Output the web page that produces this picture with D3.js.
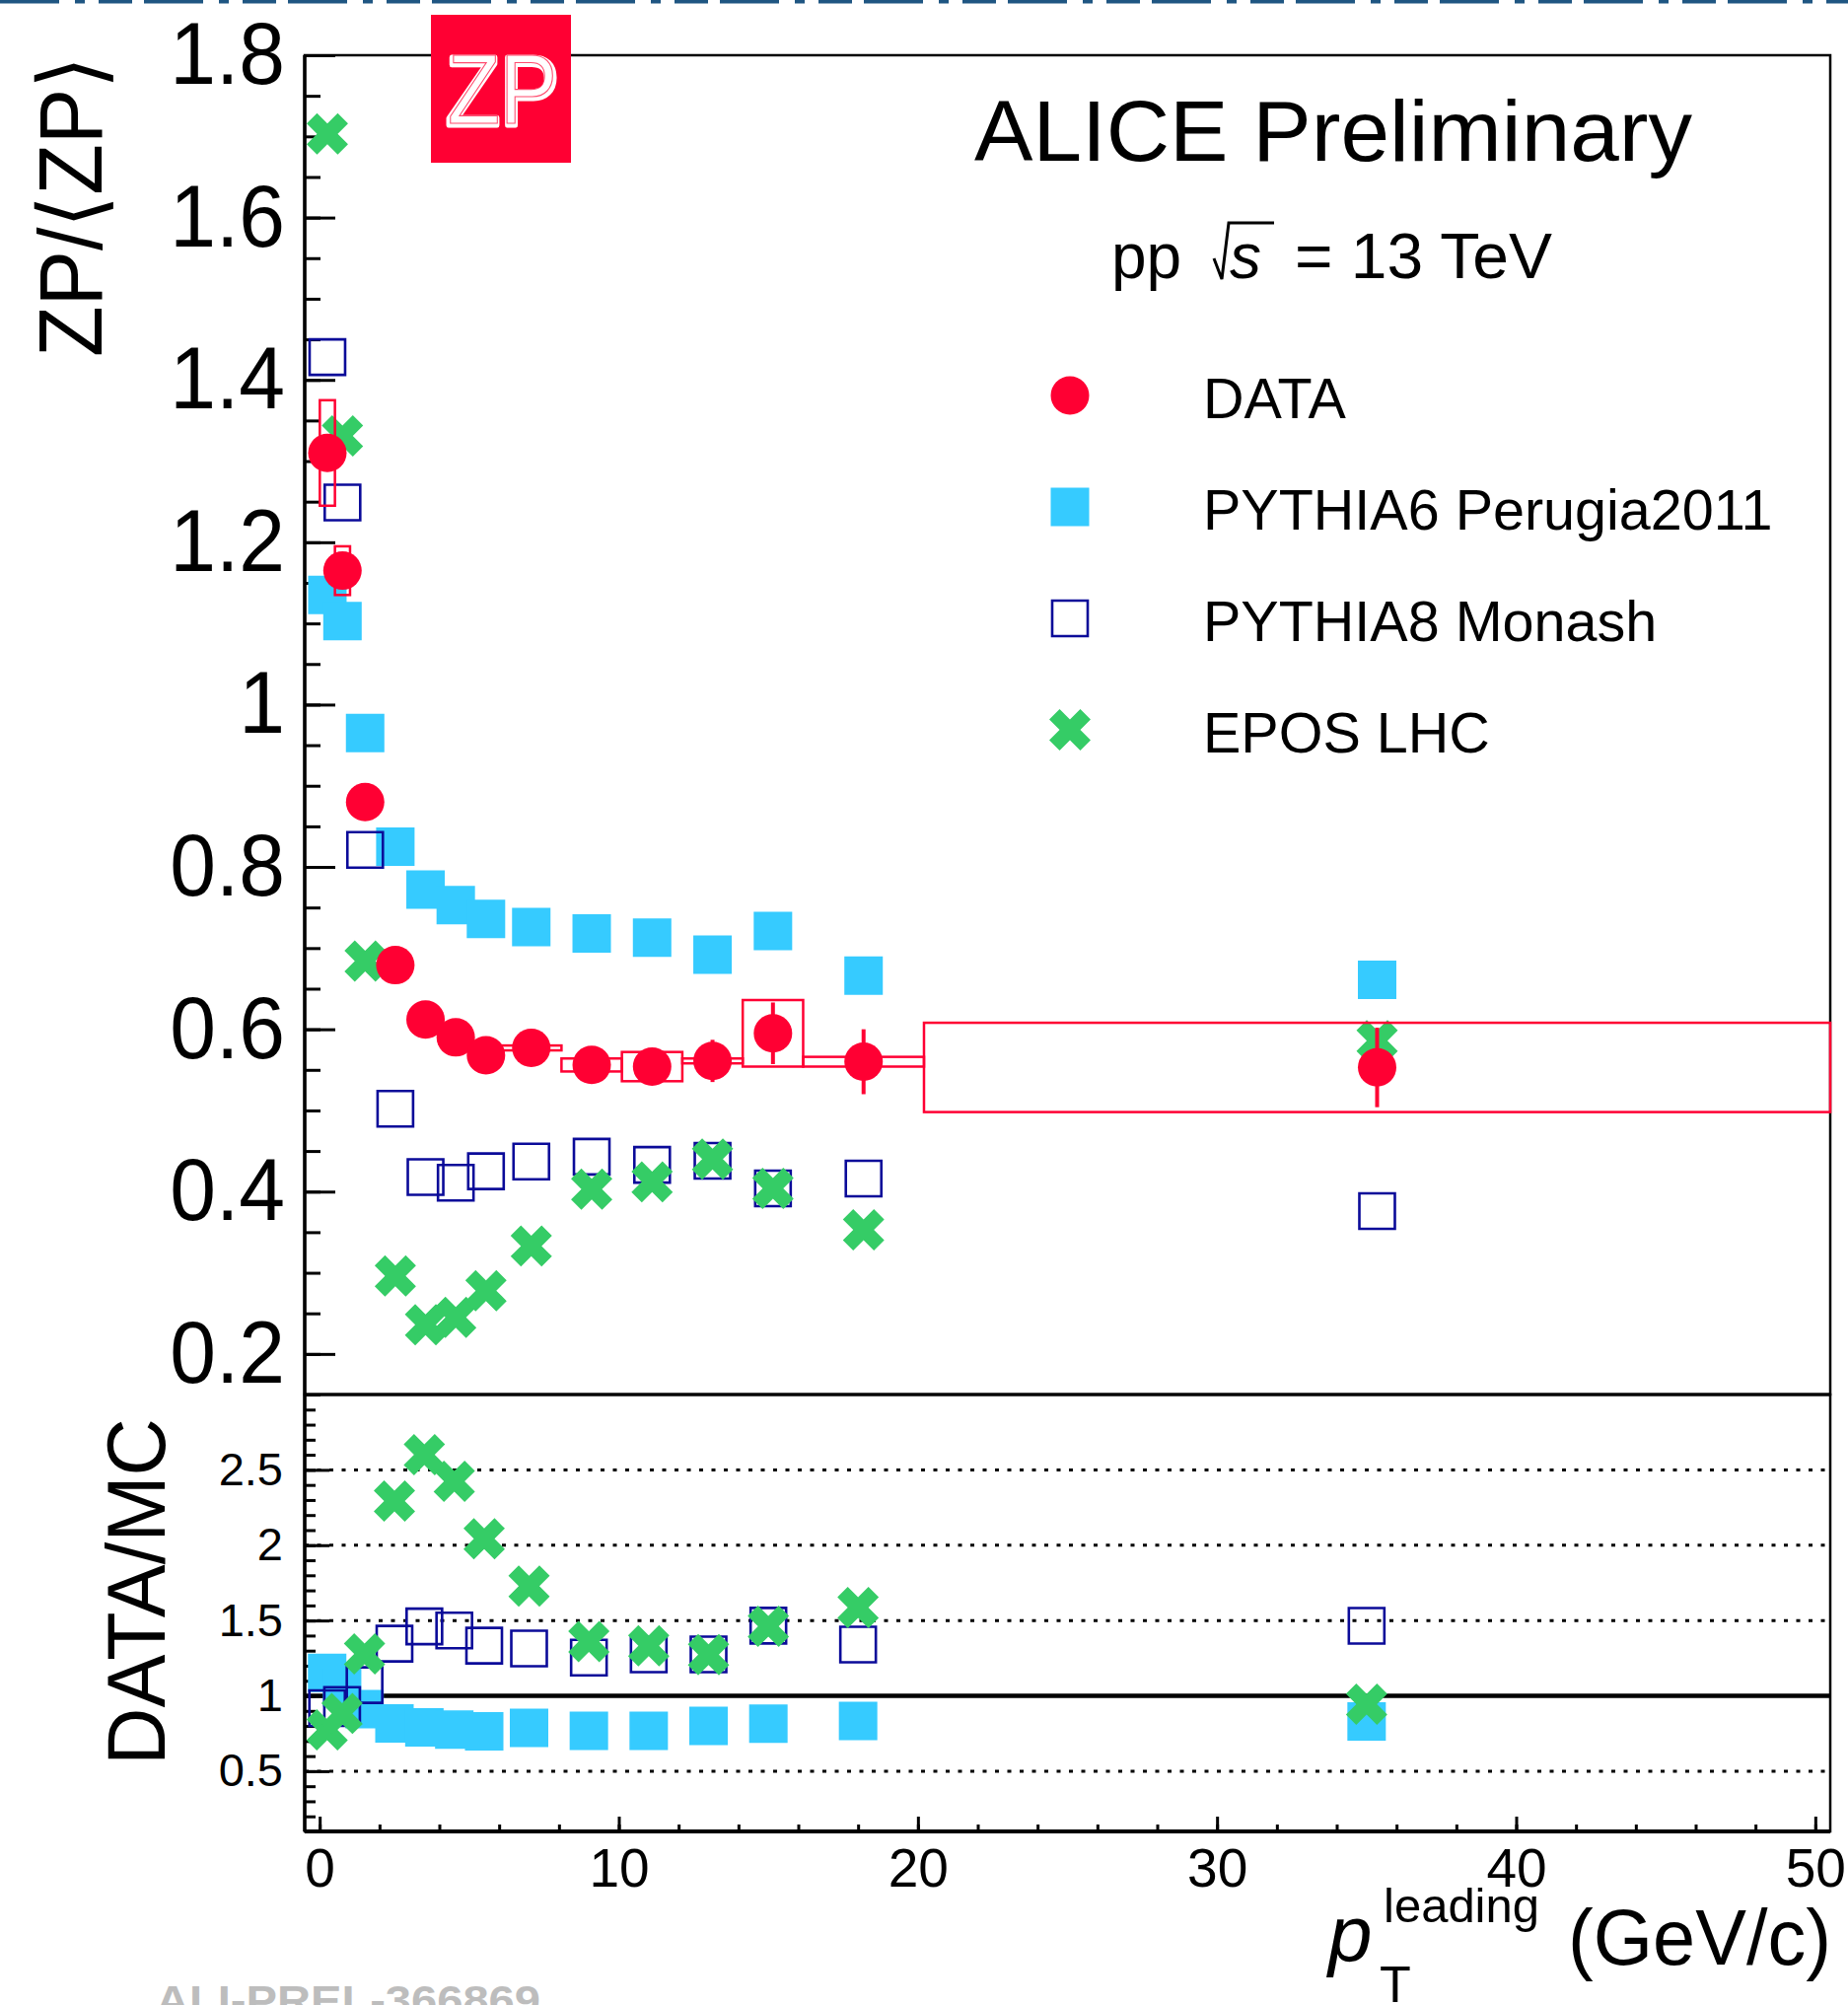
<!DOCTYPE html>
<html>
<head>
<meta charset="utf-8">
<script src="https://cdn.jsdelivr.net/npm/d3@7"></script>
<style>
  body { margin: 0; background: #fff; }
  svg text { font-family: "Liberation Sans", Arial, Helvetica, sans-serif; }
</style>
</head>
<body>
<div class="canva"></div>
<script>
// leading pT bins (GeV/c)
const binLow   = [0, 0.5, 1, 2, 3, 4, 5, 6, 8, 10, 12, 14, 16, 20];
const binHigh  = [0.5, 1, 2, 3, 4, 5, 6, 8, 10, 12, 14, 16, 20, 50];
const ptCenter = [0.25, 0.75, 1.5, 2.5, 3.5, 4.5, 5.5, 7, 9, 11, 13, 15, 18, 35];

// ZP / <ZP>
const dataVal  = [1.310, 1.165, 0.880, 0.679, 0.612, 0.590, 0.568, 0.577, 0.556, 0.554, 0.561, 0.595, 0.560, 0.553];
const dataStat = [0.020, 0.015, 0.010, 0.008, 0.008, 0.008, 0.008, 0.010, 0.015, 0.020, 0.026, 0.038, 0.040, 0.049];
const dataSyst = [0.065, 0.030, 0.010, 0.005, 0.004, 0.004, 0.004, 0.003, 0.008, 0.018, 0.003, 0.041, 0.006, 0.055];
const pythia6  = [1.135, 1.103, 0.965, 0.825, 0.772, 0.753, 0.736, 0.726, 0.718, 0.713, 0.692, 0.721, 0.666, 0.661];
const pythia8  = [1.428, 1.249, 0.821, 0.502, 0.418, 0.411, 0.425, 0.437, 0.443, 0.433, 0.438, 0.404, 0.416, 0.376];
const epos     = [1.703, 1.331, 0.684, 0.296, 0.236, 0.245, 0.278, 0.333, 0.403, 0.412, 0.440, 0.404, 0.353, 0.586];

// DATA / MC
const ratioP6   = [1.153, 1.056, 0.912, 0.817, 0.790, 0.776, 0.765, 0.787, 0.768, 0.768, 0.800, 0.815, 0.834, 0.830];
const ratioP8   = [0.918, 0.940, 1.071, 1.346, 1.461, 1.434, 1.333, 1.314, 1.254, 1.275, 1.275, 1.466, 1.341, 1.465];
const ratioEpos = [0.774, 0.883, 1.278, 2.293, 2.601, 2.424, 2.042, 1.728, 1.360, 1.333, 1.273, 1.461, 1.586, 0.945];

const topTicks   = [0.2, 0.4, 0.6, 0.8, 1.0, 1.2, 1.4, 1.6, 1.8];
const ratioTicks = [0.5, 1, 1.5, 2, 2.5];
const ratioGrid  = [0.5, 1.5, 2, 2.5];
const xTicks     = [0, 10, 20, 30, 40, 50];
const legendNames = ['DATA', 'PYTHIA6 Perugia2011', 'PYTHIA8 Monash', 'EPOS LHC'];

const red = '#ff0033', cyan = '#36cbff', navy = '#0b0b99', green = '#35cc66';

const svg = d3.select('.canva').append('svg')
    .attr('width', 1874)
    .attr('height', 2033);

svg.append('rect').attr('width', 1874).attr('height', 2033).attr('fill', '#fff');

// cut-off banner remains at the very top
svg.append('line')
    .attr('x1', 0).attr('x2', 1874).attr('y1', 1.5).attr('y2', 1.5)
    .attr('stroke', '#1f5682').attr('stroke-width', 4)
    .attr('stroke-dasharray', '60,16,10,14,34,12');

const left = 309, right = 1856;
const top0 = 56, split = 1414, bottom = 1857;

const xTop = d3.scaleLinear().domain([-0.5, 50]).range([left, right]);
const xBot = d3.scaleLinear().domain([-0.5, 50.5]).range([left, right]);
const yTop = d3.scaleLinear().domain([0.15, 1.8]).range([split, top0]);
const yBot = d3.scaleLinear().domain([0.1, 3.0]).range([bottom, split]);

const fmt = d3.format('~g');

// ---------- axes ----------
function styleAxis(g, size) {
    g.select('.domain').remove();
    g.attr('font-family', '"Liberation Sans", Arial, sans-serif').attr('font-size', size);
    g.selectAll('line').attr('stroke', '#000').attr('stroke-width', 3);
    g.selectAll('text').attr('fill', '#000');
}

// top panel y
const gyTopMinor = svg.append('g').attr('transform', `translate(${left},0)`)
    .call(d3.axisLeft(yTop).tickValues(d3.range(3, 37).map(i => i * 0.05)).tickSize(-16).tickFormat(''));
styleAxis(gyTopMinor, 10);
const gyTop = svg.append('g').attr('transform', `translate(${left},0)`)
    .call(d3.axisLeft(yTop).tickValues(topTicks).tickSize(-31).tickPadding(20).tickFormat(fmt));
styleAxis(gyTop, 84);
gyTop.selectAll('text').attr('transform', 'scale(1,1.06)');

// bottom panel y
const gyBotMinor = svg.append('g').attr('transform', `translate(${left},0)`)
    .call(d3.axisLeft(yBot).tickValues(d3.range(1, 30).map(i => i / 10)).tickSize(-11).tickFormat(''));
styleAxis(gyBotMinor, 10);
const gyBot = svg.append('g').attr('transform', `translate(${left},0)`)
    .call(d3.axisLeft(yBot).tickValues(ratioTicks).tickSize(-25).tickPadding(22).tickFormat(fmt));
styleAxis(gyBot, 47);

// bottom panel x
const gxMinor = svg.append('g').attr('transform', `translate(0,${bottom})`)
    .call(d3.axisBottom(xBot).tickValues(d3.range(0, 51, 2)).tickSize(-7).tickFormat(''));
styleAxis(gxMinor, 10);
const gx = svg.append('g').attr('transform', `translate(0,${bottom})`)
    .call(d3.axisBottom(xBot).tickValues(xTicks).tickSize(-15).tickPadding(17).tickFormat(fmt));
styleAxis(gx, 55);

// ratio grid
svg.append('g').selectAll('line')
    .data(ratioGrid)
    .enter().append('line')
    .attr('x1', left).attr('x2', right)
    .attr('y1', d => yBot(d)).attr('y2', d => yBot(d))
    .attr('stroke', '#000').attr('stroke-width', 3)
    .attr('stroke-dasharray', '4,8.5');
svg.append('line')
    .attr('x1', left).attr('x2', right)
    .attr('y1', yBot(1)).attr('y2', yBot(1))
    .attr('stroke', '#000').attr('stroke-width', 4.5);

// frames
svg.append('rect')
    .attr('x', left).attr('y', top0).attr('width', right - left).attr('height', split - top0)
    .attr('fill', 'none').attr('stroke', '#000').attr('stroke-width', 2.5);
svg.append('rect')
    .attr('x', left).attr('y', split).attr('width', right - left).attr('height', bottom - split)
    .attr('fill', 'none').attr('stroke', '#000').attr('stroke-width', 2.5);
svg.append('line').attr('x1', left).attr('x2', left).attr('y1', top0).attr('y2', bottom)
    .attr('stroke', '#000').attr('stroke-width', 3.5);
svg.append('line').attr('x1', left).attr('x2', right).attr('y1', bottom).attr('y2', bottom)
    .attr('stroke', '#000').attr('stroke-width', 4);
svg.append('line').attr('x1', left).attr('x2', right).attr('y1', split).attr('y2', split)
    .attr('stroke', '#000').attr('stroke-width', 3);

// ---------- markers ----------
const circlePath = d3.symbol(d3.symbolCircle, Math.PI * 19.5 * 19.5)();
const squarePath = d3.symbol(d3.symbolSquare, 39 * 39)();
const hollowPath = d3.symbol(d3.symbolSquare, 36 * 36)();
const crossPath  = d3.symbol(d3.symbolCross, 1100)();

function drawSeries(g, xs, ys, xScale, yScale, kind) {
    const sel = g.append('g').selectAll('path')
        .data(ys)
        .enter().append('path')
        .attr('transform', (d, i) => `translate(${xScale(xs[i])},${yScale(d)})` + (kind === 'x' ? ' rotate(45)' : ''));
    if (kind === 'circle') sel.attr('d', circlePath).attr('fill', red);
    if (kind === 'square') sel.attr('d', squarePath).attr('fill', cyan);
    if (kind === 'hollow') sel.attr('d', hollowPath).attr('fill', 'none').attr('stroke', navy).attr('stroke-width', 2.6);
    if (kind === 'x') sel.attr('d', crossPath).attr('fill', green);
    return sel;
}

const topG = svg.append('g');
drawSeries(topG, ptCenter, pythia6, xTop, yTop, 'square');
drawSeries(topG, ptCenter, pythia8, xTop, yTop, 'hollow');
drawSeries(topG, ptCenter, epos, xTop, yTop, 'x');

// systematic boxes
topG.append('g').selectAll('rect')
    .data(dataVal)
    .enter().append('rect')
    .attr('x', (d, i) => xTop(binLow[i]))
    .attr('width', (d, i) => xTop(binHigh[i]) - xTop(binLow[i]))
    .attr('y', (d, i) => yTop(d + dataSyst[i]))
    .attr('height', (d, i) => Math.max(yTop(d - dataSyst[i]) - yTop(d + dataSyst[i]), 4))
    .attr('fill', 'none').attr('stroke', red).attr('stroke-width', 2.5);

// statistical bars
topG.append('g').selectAll('line')
    .data(dataVal)
    .enter().append('line')
    .attr('x1', (d, i) => xTop(ptCenter[i])).attr('x2', (d, i) => xTop(ptCenter[i]))
    .attr('y1', (d, i) => yTop(d + dataStat[i])).attr('y2', (d, i) => yTop(d - dataStat[i]))
    .attr('stroke', red).attr('stroke-width', 4);

drawSeries(topG, ptCenter, dataVal, xTop, yTop, 'circle');

const botG = svg.append('g');
drawSeries(botG, ptCenter, ratioP6, xBot, yBot, 'square');
drawSeries(botG, ptCenter, ratioP8, xBot, yBot, 'hollow');
drawSeries(botG, ptCenter, ratioEpos, xBot, yBot, 'x');

// ---------- legend ----------
const legendKinds = ['circle', 'square', 'hollow', 'x'];
const legendG = svg.append('g');
legendG.selectAll('path')
    .data(legendNames)
    .enter().append('path')
    .attr('transform', (d, i) => `translate(1085,${401 + i * 113})` + (legendKinds[i] === 'x' ? ' rotate(45)' : ''))
    .attr('d', (d, i) => [circlePath, squarePath, hollowPath, crossPath][i])
    .attr('fill', (d, i) => [red, cyan, 'none', green][i])
    .attr('stroke', (d, i) => legendKinds[i] === 'hollow' ? navy : 'none')
    .attr('stroke-width', 2.6);
legendG.selectAll('text')
    .data(legendNames)
    .enter().append('text')
    .attr('x', 1220)
    .attr('y', (d, i) => 424 + i * 113)
    .attr('font-size', 57.5)
    .text(d => d);

// ---------- labels ----------
svg.append('text')
    .attr('x', 988).attr('y', 163)
    .attr('font-size', 88).attr('textLength', 728).attr('lengthAdjust', 'spacingAndGlyphs')
    .text('ALICE Preliminary');

const energy = svg.append('g').attr('font-size', 64);
energy.append('text').attr('x', 1127).attr('y', 282).text('pp');
energy.append('path')
    .attr('d', 'M1231,262 L1239,283 L1246,226 L1292,226')
    .attr('fill', 'none').attr('stroke', '#000').attr('stroke-width', 3);
energy.append('text').attr('x', 1247).attr('y', 282).attr('font-style', 'italic').text('s');
energy.append('text').attr('x', 1313).attr('y', 282)
    .attr('textLength', 261).attr('lengthAdjust', 'spacingAndGlyphs').text('= 13 TeV');

svg.append('text')
    .attr('transform', 'translate(103,362) rotate(-90)')
    .attr('font-size', 90).attr('textLength', 305).attr('lengthAdjust', 'spacingAndGlyphs')
    .text('ZP/\u27E8ZP\u27E9');

svg.append('text')
    .attr('transform', 'translate(167,1790) rotate(-90)')
    .attr('font-size', 84).attr('textLength', 352).attr('lengthAdjust', 'spacingAndGlyphs')
    .text('DATA/MC');

const xt = svg.append('g');
xt.append('text').attr('x', 1347).attr('y', 1988).attr('font-size', 80).attr('font-style', 'italic').text('p');
xt.append('text').attr('x', 1399).attr('y', 2030).attr('font-size', 52).text('T');
xt.append('text').attr('x', 1403).attr('y', 1949).attr('font-size', 49)
    .attr('textLength', 158).attr('lengthAdjust', 'spacingAndGlyphs').text('leading');
xt.append('text').attr('x', 1590).attr('y', 1992).attr('font-size', 80)
    .attr('textLength', 267).attr('lengthAdjust', 'spacingAndGlyphs').text('(GeV/c)');

// watermark, cut by the page edge
svg.append('text')
    .attr('x', 158).attr('y', 2043)
    .attr('font-family', '"Liberation Mono", "DejaVu Sans Mono", monospace')
    .attr('font-weight', 'bold').attr('font-size', 43).attr('fill', '#bdbdbd')
    .attr('textLength', 390).attr('lengthAdjust', 'spacingAndGlyphs')
    .text('ALI-PREL-366869');

// ZP logo
const logo = svg.append('g');
logo.append('rect').attr('x', 437).attr('y', 15).attr('width', 142).attr('height', 150).attr('fill', red);
logo.append('text')
    .attr('x', 452).attr('y', 127).attr('font-size', 100)
    .attr('textLength', 115).attr('lengthAdjust', 'spacingAndGlyphs')
    .attr('fill', '#fff').attr('stroke', '#fff').attr('stroke-width', 5).attr('stroke-linejoin', 'round')
    .text('ZP');
logo.append('text')
    .attr('x', 454).attr('y', 125).attr('font-size', 100)
    .attr('textLength', 111).attr('lengthAdjust', 'spacingAndGlyphs')
    .attr('fill', 'none').attr('stroke', red).attr('stroke-width', 1.2).attr('opacity', 0.7)
    .text('ZP');
</script>
</body>
</html>
